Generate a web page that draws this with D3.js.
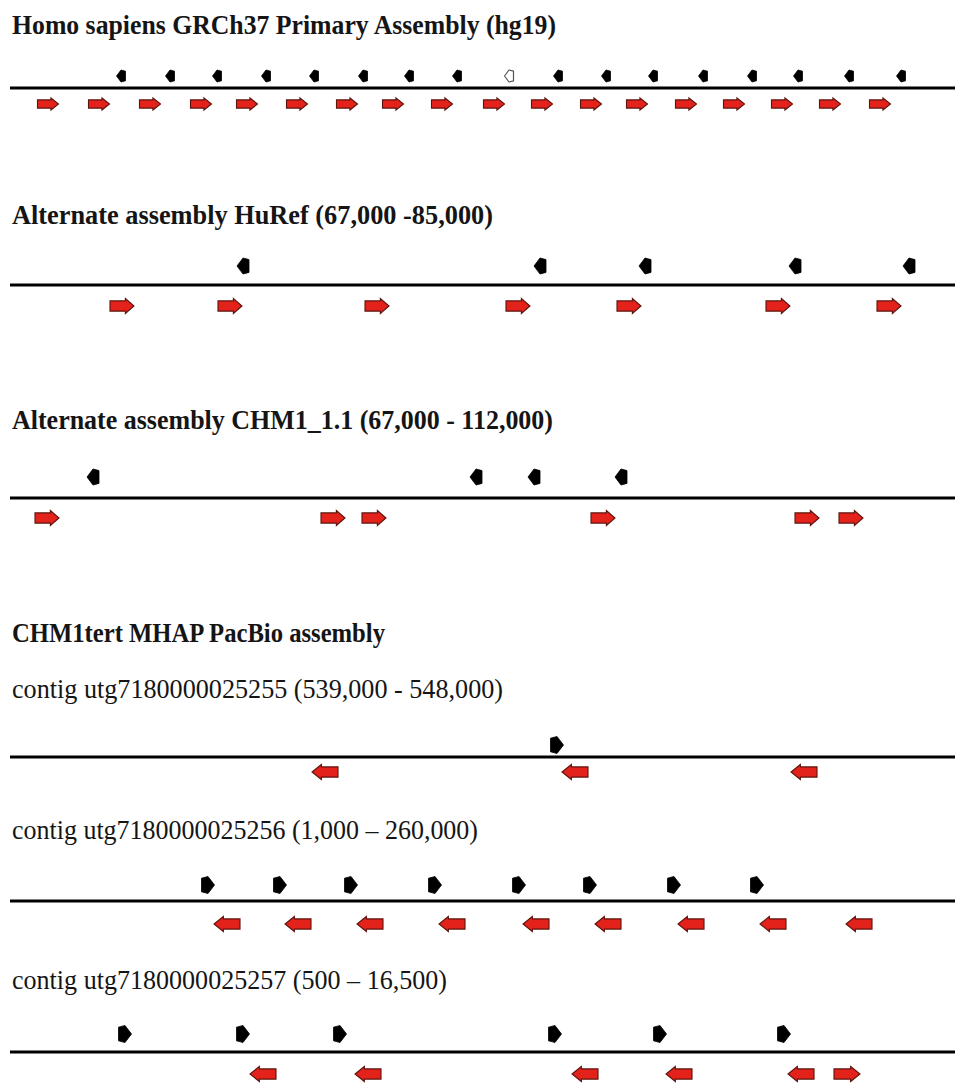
<!DOCTYPE html>
<html><head><meta charset="utf-8">
<script src="https://cdn.jsdelivr.net/npm/d3@7"></script>
<style>
html,body{margin:0;padding:0;background:#fff;}
svg{display:block;}
</style></head>
<body>
<script>
// ---- Labels ----
const titles = [
  "Homo sapiens GRCh37 Primary Assembly (hg19)",
  "Alternate assembly HuRef (67,000 -85,000)",
  "Alternate assembly CHM1_1.1 (67,000 - 112,000)",
  "CHM1tert MHAP PacBio assembly"
];
const contigLabels = [
  "contig utg7180000025255 (539,000 - 548,000)",
  "contig utg7180000025256 (1,000 \u2013 260,000)",
  "contig utg7180000025257 (500 \u2013 16,500)"
];

// ---- Feature positions (relative position along each track) ----
// hg19
const hg19Red   = [48,99,150,201,247,297,347,393,442,494,542,591,637,686,734,782,830,880];        // forward
const hg19Black = [121,170,217,266,314,363,409,457,509,558,606,653,703,752,798,849,901];           // reverse
const hg19Hollow = [509];
// HuRef
const hurefRed   = [122,230,377,518,629,778,889];
const hurefBlack = [243,540,645,795,909];
// CHM1_1.1
const chm1Red   = [47,333,374,603,807,851];
const chm1Black = [93,476,534,621];
// contig 255
const c255Black = [557];
const c255Red   = [325,575,804];
// contig 256
const c256Black = [208,280,351,435,519,590,674,757];
const c256Red   = [227,298,370,452,536,608,691,773,859];
// contig 257
const c257Black = [125,243,340,555,660,784];
const c257RedRev = [263,368,585,679,801];
const c257RedFwd = [847];

const W = 955, H = 1085;
const svg = d3.select("body").append("svg").attr("width", W).attr("height", H);
const x = d3.scaleLinear().domain([0, 955]).range([0, 955]);

const RED = "#e3231b", RED_STROKE = "#5e120c";

// Text
const textDefs = [
  {t: titles[0], y: 34, w: 544, bold: true},
  {t: titles[1], y: 224, w: 481, bold: true},
  {t: titles[2], y: 429, w: 541, bold: true},
  {t: titles[3], y: 642, w: 373, bold: true},
  {t: contigLabels[0], y: 698, w: 491, bold: false},
  {t: contigLabels[1], y: 839, w: 466, bold: false},
  {t: contigLabels[2], y: 989, w: 435, bold: false}
];
svg.selectAll("text.lbl").data(textDefs).join("text")
  .attr("class","lbl")
  .attr("x", 12).attr("y", d => d.y)
  .attr("font-family", "'Liberation Serif', 'DejaVu Serif', serif")
  .attr("font-size", 27)
  .attr("font-weight", d => d.bold ? "bold" : "normal")
  .attr("fill", "#151515")
  .attr("textLength", d => d.w)
  .attr("lengthAdjust", "spacingAndGlyphs")
  .text(d => d.t);

// arrow path generators (centered at 0,0)
function blockArrow(w, h, dir) { // red block arrow
  const hw = w/2, hh = h/2, sh = h*0.34, head = w*0.36;
  const pts = [[-hw,-sh],[hw-head,-sh],[hw-head,-hh],[hw,0],[hw-head,hh],[hw-head,sh],[-hw,sh]];
  return d3.line()(pts.map(p => [p[0]*dir, p[1]])) + "Z";
}
function pentArrow(w, h, dir) { // black pentagon arrow
  const hw = w/2, hh = h/2, tip = w*0.5;
  const pts = [[-hw,-hh*0.8],[hw-tip,-hh],[hw,0],[hw-tip,hh],[-hw,hh*0.8]];
  return d3.line()(pts.map(p => [p[0]*dir, p[1]])) + "Z";
}

const tracks = [
  {lineY: 88, blackY: 76, redY: 104, bw: 9, bh: 12, rw: 21, rh: 12,
   black: hg19Black, blackDir: -1, red: [{pos: hg19Red, dir: 1}], hollow: hg19Hollow},
  {lineY: 285, blackY: 266, redY: 306, bw: 12, bh: 16, rw: 24, rh: 15,
   black: hurefBlack, blackDir: -1, red: [{pos: hurefRed, dir: 1}]},
  {lineY: 498, blackY: 477, redY: 518, bw: 12, bh: 16, rw: 24, rh: 15,
   black: chm1Black, blackDir: -1, red: [{pos: chm1Red, dir: 1}]},
  {lineY: 757, blackY: 745, redY: 772, bw: 13, bh: 17, rw: 26, rh: 15,
   black: c255Black, blackDir: 1, red: [{pos: c255Red, dir: -1}]},
  {lineY: 901, blackY: 885, redY: 924, bw: 13, bh: 17, rw: 26, rh: 15,
   black: c256Black, blackDir: 1, red: [{pos: c256Red, dir: -1}]},
  {lineY: 1052, blackY: 1034, redY: 1074, bw: 13, bh: 17, rw: 26, rh: 15,
   black: c257Black, blackDir: 1, red: [{pos: c257RedRev, dir: -1}, {pos: c257RedFwd, dir: 1}]}
];

tracks.forEach(tr => {
  const g = svg.append("g");
  g.append("line")
    .attr("x1", x(10)).attr("x2", x(955))
    .attr("y1", tr.lineY).attr("y2", tr.lineY)
    .attr("stroke", "#000").attr("stroke-width", 3);
  const hollowSet = new Set(tr.hollow || []);
  g.selectAll("path.blk").data(tr.black).join("path")
    .attr("class","blk")
    .attr("transform", d => `translate(${x(d)},${tr.blackY})`)
    .attr("d", pentArrow(tr.bw, tr.bh, tr.blackDir))
    .attr("fill", d => hollowSet.has(d) ? "#fff" : "#000")
    .attr("stroke", d => hollowSet.has(d) ? "#555" : "#000")
    .attr("stroke-width", d => hollowSet.has(d) ? 1.2 : 0.8)
    .attr("stroke-linejoin", "round");
  tr.red.forEach(set => {
    g.selectAll(null).data(set.pos).join("path")
      .attr("transform", d => `translate(${x(d)},${tr.redY})`)
      .attr("d", blockArrow(tr.rw, tr.rh, set.dir))
      .attr("fill", RED)
      .attr("stroke", RED_STROKE).attr("stroke-width", 1.1);
  });
});
</script>
</body></html>
